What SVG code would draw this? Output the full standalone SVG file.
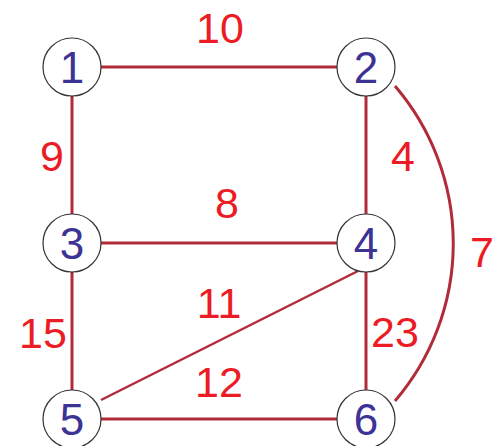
<svg xmlns="http://www.w3.org/2000/svg" width="497" height="446" viewBox="0 0 497 446">
<style>
.e{stroke:#b12b38;stroke-width:3;fill:none}
.n{fill:#fff;stroke:#333;stroke-width:1.2}
.t{font-family:"Liberation Sans",Arial,sans-serif;font-size:44px;fill:#3d3394;text-anchor:middle}
.w{font-family:"Liberation Sans",Arial,sans-serif;font-size:43px;fill:#ec1c24;text-anchor:middle}
</style>
<rect width="497" height="446" fill="#fff"/>
<g id="edges">
<line class="e" x1="101" y1="67" x2="337" y2="67"/>
<line class="e" x1="72" y1="96" x2="72" y2="214"/>
<line class="e" x1="366" y1="96" x2="366" y2="214"/>
<line class="e" x1="101" y1="243" x2="337" y2="243"/>
<line class="e" x1="72" y1="272" x2="72" y2="390"/>
<line class="e" x1="366" y1="272" x2="366" y2="390"/>
<line class="e" x1="101" y1="419" x2="337" y2="419"/>
<line class="e" style="stroke-width:2.5" x1="101" y1="400" x2="358" y2="271"/>
<path class="e" d="M395 86 A242 242 0 0 1 395 401"/>
</g>
<g id="labels">
<text class="w" x="220" y="43">10</text>
<text class="w" x="52" y="171">9</text>
<text class="w" x="403" y="171">4</text>
<text class="w" x="227" y="218">8</text>
<text class="w" x="482" y="267">7</text>
<text class="w" x="219" y="318">11</text>
<text class="w" x="43" y="348">15</text>
<text class="w" x="395" y="347">23</text>
<text class="w" x="219" y="397">12</text>
</g>
<g id="node1"><circle class="n" cx="72" cy="67" r="29"/><text class="t" x="72" y="83">1</text></g>
<g id="node2"><circle class="n" cx="366" cy="67" r="29"/><text class="t" x="366" y="83">2</text></g>
<g id="node3"><circle class="n" cx="72" cy="243" r="29"/><text class="t" x="72" y="259">3</text></g>
<g id="node4"><circle class="n" cx="366" cy="243" r="29"/><text class="t" x="366" y="259">4</text></g>
<g id="node5"><circle class="n" cx="72" cy="419" r="29"/><text class="t" x="72" y="435">5</text></g>
<g id="node6"><circle class="n" cx="366" cy="419" r="29"/><text class="t" x="366" y="435">6</text></g>
</svg>
